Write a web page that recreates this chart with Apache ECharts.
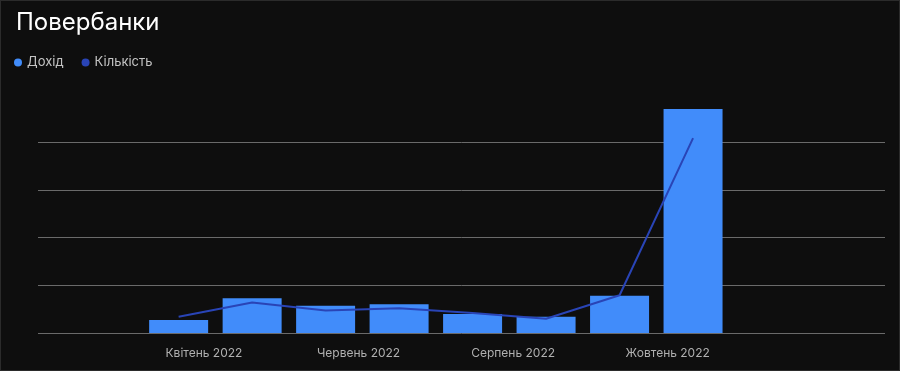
<!DOCTYPE html>
<html>
<head>
<meta charset="utf-8">
<script src="https://cdn.jsdelivr.net/npm/echarts@6/dist/echarts.min.js"></script>
<style>
html,body{margin:0;padding:0;background:#0e0e0e;}
#c{width:898px;height:369px;border:1px solid #2b2b2b;background:#0e0e0e;}
</style>
</head>
<body>
<div id="c"></div>
<script>
// Data
const dates = ['2022-03-22','2022-04-20','2022-05-19','2022-06-17','2022-07-16','2022-08-14','2022-09-12','2022-10-11'];
const revenue = [2700, 7300, 5700, 6000, 4000, 3400, 7800, 46900];
const quantity = [34, 64, 47, 52, 42, 30, 79, 408];
const tickDates = ['2022-04-01','2022-06-01','2022-08-01','2022-10-01'];
const tickLabels = ['Квітень 2022','Червень 2022','Серпень 2022','Жовтень 2022'];
const seriesNames = ['Дохід','Кількість'];

function ts(s){ const p = s.split('-').map(Number); return new Date(p[0], p[1]-1, p[2]).getTime(); }
const tickTs = tickDates.map(ts);
const FONT = 'Inter, "Noto Sans", sans-serif';

const chart = echarts.init(document.getElementById('c'), null, {renderer:'canvas'});
chart.setOption({
  backgroundColor:'#0e0e0e',
  animation:false,
  title:{text:'Повербанки', left:10, top:5, textStyle:{color:'#ffffff', fontSize:24, fontWeight:'normal', fontFamily:FONT}},
  legend:{left:8, top:50, icon:'circle', itemWidth:8, itemHeight:8, itemGap:18,
    textStyle:{color:'#c4c4c4', fontSize:13, fontFamily:FONT}, data:seriesNames},
  grid:{left:37, right:14, top:141, bottom:37},
  xAxis:{type:'value', min:new Date(2022,0,25,12).getTime(), max:new Date(2022,11,25,18).getTime(),
    axisLine:{show:false}, axisTick:{show:false}, splitLine:{show:false},
    axisLabel:{customValues:tickTs, color:'#b0b0b0', fontSize:12, fontFamily:FONT, margin:14,
      formatter:function(v){ const i = tickTs.indexOf(v); return i>=0 ? tickLabels[i] : ''; }}},
  yAxis:[
    {type:'value', min:0, max:40000, interval:10000, axisLabel:{show:false}, axisLine:{show:false}, axisTick:{show:false},
      splitLine:{lineStyle:{color:'#6a6a6a', width:1}}},
    {type:'value', min:0, max:400, interval:100, show:false, splitLine:{show:false}}
  ],
  series:[
    {name:seriesNames[0], type:'bar', yAxisIndex:0, barWidth:59, clip:false,
      itemStyle:{color:'#418cfa'}, data:dates.map((d,i)=>[ts(d), revenue[i]])},
    {name:seriesNames[1], type:'line', yAxisIndex:1, clip:false, symbol:'none', smooth:false,
      lineStyle:{color:'#2944b6', width:2}, itemStyle:{color:'#2944b6'},
      data:dates.map((d,i)=>[ts(d), quantity[i]])}
  ]
});
</script>
</body>
</html>
